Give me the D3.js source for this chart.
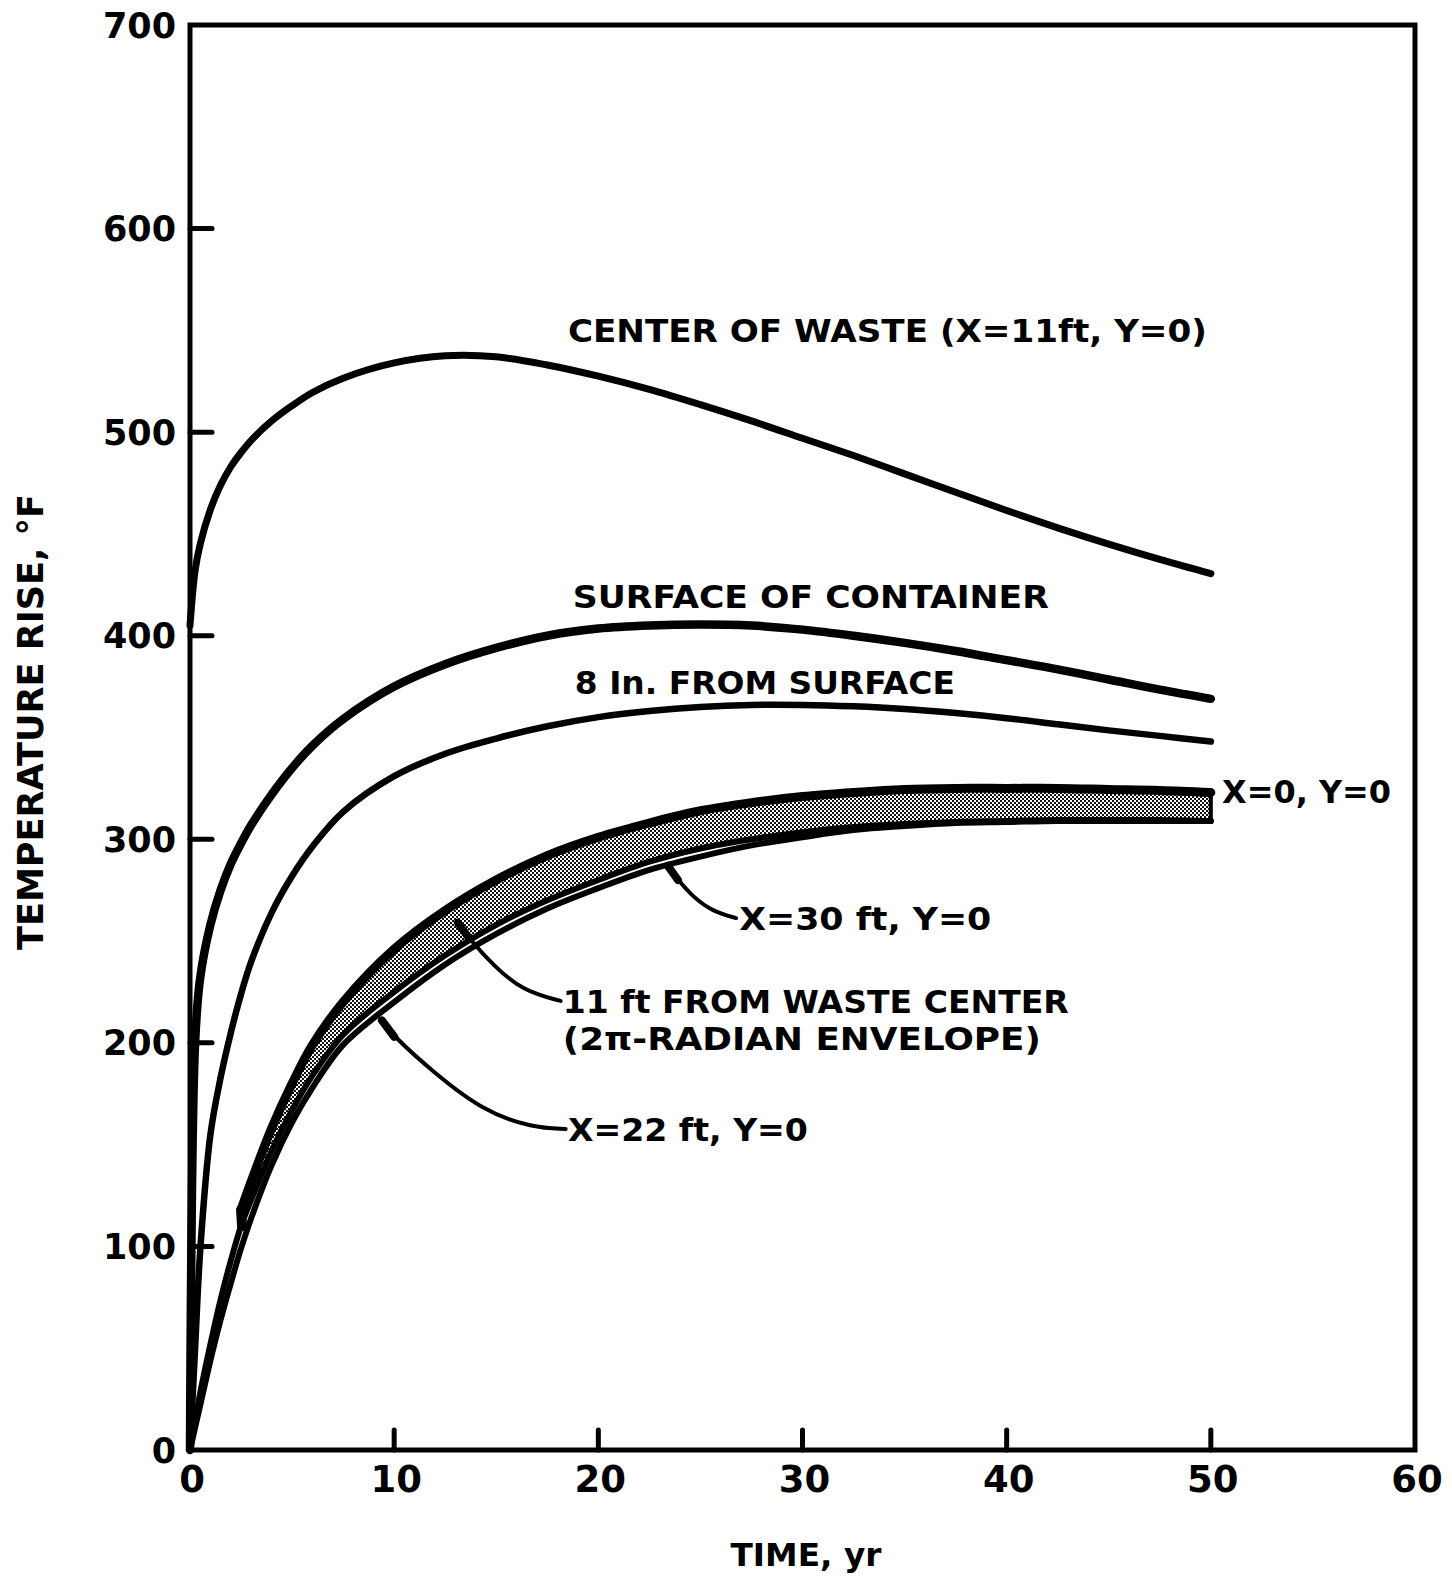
<!DOCTYPE html>
<html>
<head>
<meta charset="utf-8">
<script src="https://cdn.jsdelivr.net/npm/d3@7"></script>
<style>
  html, body { margin: 0; padding: 0; background: #fff; }
  svg { display: block; }
  text { font-family: "DejaVu Sans", "Liberation Sans", sans-serif; font-weight: bold; fill: #000; }
</style>
</head>
<body>
<svg id="chart" width="1452" height="1577"></svg>
<script>
// Time after burial, years
const years = [0, 0.25, 0.5, 1, 1.5, 2, 2.5, 3, 4, 5, 6, 7.5, 10, 12.5, 15, 17.5, 20, 22.5, 25, 27.5, 30, 32.5, 35, 37.5, 40, 42.5, 45, 47.5, 50];

// Temperature rise, °F
const centerOfWaste = [405, 432, 445, 462, 474, 483, 490, 496, 505.5, 513, 519.5, 526.5, 534, 537.5, 537, 533, 527.5, 521, 513.5, 505.5, 497, 488.5, 479.5, 470.5, 461.5, 453, 445, 437.5, 430.5];
const surfaceOfContainer = [0, 200, 232, 258, 275, 288, 298, 307, 322, 335, 346, 359, 375, 386, 394, 400, 403.5, 405, 405.5, 405, 403, 400, 396.5, 392.5, 388, 383.5, 378.5, 373.5, 369];
const eightInFromSurface = [0, 50, 98, 155, 183, 205, 224, 240, 264, 282, 296.5, 313.5, 331, 342, 349.5, 355.5, 360, 363, 365, 366, 366, 365.3, 364, 362, 359.5, 356.5, 353.5, 350.8, 348];
const x0y0 = [null, null, null, null, null, null, 118, 132, 158, 180, 199, 220, 246, 265, 280, 292, 301, 308, 314, 318, 321, 323, 324.5, 325, 325, 325, 324.5, 324, 323];
const x22y0 = [0, 14, 28, 52, 74, 93, 110, 123, 147, 167, 184, 204, 225, 243, 258, 270, 280, 289, 295.5, 300, 303.5, 306, 307.5, 308.5, 309, 309.5, 309.5, 309.5, 309];
const x30y0 = [0, 11, 22, 44, 64, 82, 99, 114, 140, 161, 178, 199, 220, 238.5, 253.5, 266, 276, 285, 291.5, 297, 301, 304.5, 306.5, 308, 308.5, 309, 309, 309, 309];

// Axis ticks
const xTicks = [0, 10, 20, 30, 40, 50, 60];
const yTicks = [0, 100, 200, 300, 400, 500, 600, 700];

// Curve labels: text, anchor time (left edge), anchor temperature (baseline)
const labelText = ["CENTER OF WASTE  (X=11ft, Y=0)", "SURFACE OF CONTAINER", "8 In. FROM SURFACE", "X=0, Y=0", "X=30 ft, Y=0", "11 ft FROM WASTE CENTER", "(2\u03c0-RADIAN  ENVELOPE)", "X=22 ft, Y=0"];
const labelYear = [18.51, 18.75, 18.85, 50.55, 26.9, 18.26, 18.26, 18.51];
const labelTemp = [544.3, 413.6, 371.4, 317.8, 255.4, 214.7, 196.5, 151.8];

// Leader lines in data units [year, temperature], ending on the curve they name
const leaderX30 = [[26.75, 261.3], [25.6, 264.5], [24.6, 272], [23.9, 280], [23.4, 287]];
const leaderEnvelope = [[18.15, 220.6], [16.3, 225.5], [14.84, 238.2], [13.7, 251], [13.12, 259]];
const leaderX22 = [[18.4, 157.7], [16.8, 158.2], [14.35, 166.5], [11.85, 186.2], [10.0, 203], [9.4, 211]];

const svg = d3.select("#chart");
const x = d3.scaleLinear().domain([0, 60]).range([190, 1415]);
const y = d3.scaleLinear().domain([0, 700]).range([1450, 25]);

// Dotted shading for the 2π-radian envelope
const defs = svg.append("defs");
const pat = defs.append("pattern").attr("id", "stipple")
  .attr("patternUnits", "userSpaceOnUse").attr("width", 4).attr("height", 4);
pat.append("rect").attr("width", 4).attr("height", 4).attr("fill", "#fff");
pat.append("rect").attr("x", 0).attr("y", 0).attr("width", 2).attr("height", 2).attr("fill", "#111");
pat.append("rect").attr("x", 2).attr("y", 2).attr("width", 2).attr("height", 2).attr("fill", "#111");

const pts = vals => years.map((t, i) => [t, vals[i]]).filter(d => d[1] != null);
const smooth = d3.curveCatmullRom.alpha(0.5);
const line = d3.line().x(d => x(d[0])).y(d => y(d[1])).curve(smooth);

// Envelope band between X=0 and X=22 ft
const bandData = years.map((t, i) => ({ t, hi: x0y0[i], lo: x22y0[i] })).filter(d => d.hi != null);
const area = d3.area().x(d => x(d.t)).y0(d => y(d.lo)).y1(d => y(d.hi)).curve(smooth);
svg.append("path").attr("d", area(bandData)).attr("fill", "url(#stipple)").attr("stroke", "none");

const curves = [
  { v: centerOfWaste, w: 7 },
  { v: surfaceOfContainer, w: 8.5 },
  { v: eightInFromSurface, w: 6.5 },
  { v: x0y0, w: 9 },
  { v: x22y0, w: 6 },
  { v: x30y0, w: 6 }
];
svg.append("g").selectAll("path").data(curves).join("path")
  .attr("d", c => line(pts(c.v)))
  .attr("fill", "none").attr("stroke", "#000")
  .attr("stroke-width", c => c.w)
  .attr("stroke-linecap", "round").attr("stroke-linejoin", "round");

// Squared right end and rounded left end of the band
const last = bandData[bandData.length - 1];
svg.append("line").attr("x1", x(last.t)).attr("x2", x(last.t))
  .attr("y1", y(last.hi) - 3).attr("y2", y(last.lo) + 3)
  .attr("stroke", "#000").attr("stroke-width", 4);
const first = bandData[0];
svg.append("line").attr("x1", x(first.t)).attr("x2", x(first.t) + 1)
  .attr("y1", y(first.hi)).attr("y2", y(first.lo))
  .attr("stroke", "#000").attr("stroke-width", 10).attr("stroke-linecap", "round");

// Frame
svg.append("rect").attr("x", x(0)).attr("y", y(700))
  .attr("width", x(60) - x(0)).attr("height", y(0) - y(700))
  .attr("fill", "none").attr("stroke", "#000").attr("stroke-width", 5);

// Inward ticks on the left and bottom
svg.append("g").selectAll("line").data(yTicks.filter(v => v > 0 && v < 700)).join("line")
  .attr("x1", x(0)).attr("x2", x(0) + 22).attr("y1", d => y(d)).attr("y2", d => y(d))
  .attr("stroke", "#000").attr("stroke-width", 5).attr("stroke-linecap", "round");
svg.append("g").selectAll("line").data(xTicks.filter(v => v > 0 && v < 60)).join("line")
  .attr("x1", d => x(d)).attr("x2", d => x(d)).attr("y1", y(0)).attr("y2", y(0) - 20)
  .attr("stroke", "#000").attr("stroke-width", 5).attr("stroke-linecap", "round");

// Tick labels
svg.append("g").selectAll("text").data(yTicks).join("text")
  .attr("x", 176).attr("y", d => y(d)).attr("dy", "0.36em")
  .attr("text-anchor", "end").attr("font-size", 35)
  .text(d => d);
svg.append("g").selectAll("text").data(xTicks).join("text")
  .attr("x", d => x(d) + 2).attr("y", 1479).attr("dy", "0.36em")
  .attr("text-anchor", "middle").attr("font-size", 37)
  .text(d => d);

// Axis titles
svg.append("text").attr("x", 806).attr("y", 1566)
  .attr("text-anchor", "middle").attr("font-size", 32)
  .attr("textLength", 151).attr("lengthAdjust", "spacingAndGlyphs")
  .text("TIME, yr");
svg.append("text").attr("transform", "translate(43,722) rotate(-90)")
  .attr("text-anchor", "middle").attr("font-size", 35)
  .attr("textLength", 456).attr("lengthAdjust", "spacingAndGlyphs")
  .text("TEMPERATURE  RISE, \u00b0F");

// Curve labels
const labelWidth = [639, 476, 380, 169, 252, 506, 478, 240];
svg.append("g").selectAll("text").data(labelText).join("text")
  .attr("x", (d, i) => x(labelYear[i]))
  .attr("y", (d, i) => y(labelTemp[i]))
  .attr("font-size", 32)
  .attr("textLength", (d, i) => labelWidth[i])
  .attr("lengthAdjust", "spacingAndGlyphs")
  .text(d => d);

// Leaders
const leaderLine = d3.line().x(d => x(d[0])).y(d => y(d[1])).curve(d3.curveBasis);
[leaderX30, leaderEnvelope, leaderX22].forEach(L => {
  svg.append("path").attr("d", leaderLine(L)).attr("fill", "none")
    .attr("stroke", "#000").attr("stroke-width", 4).attr("stroke-linecap", "round");
  const tip = L.slice(-2);
  svg.append("path").attr("d", d3.line().x(d => x(d[0])).y(d => y(d[1]))(tip))
    .attr("fill", "none").attr("stroke", "#000").attr("stroke-width", 8).attr("stroke-linecap", "round");
});
</script>
</body>
</html>
